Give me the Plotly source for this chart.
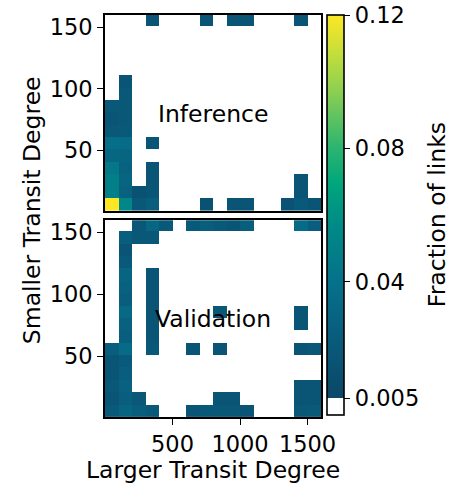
import plotly.graph_objects as go

# bin edges (Larger Transit Degree on x, Smaller Transit Degree on y)
x_edges = [0, 100, 200, 300, 400, 500, 600, 700, 800, 900, 1000, 1100, 1200, 1300, 1400, 1500, 1600]
y_edges = [1, 11, 21, 31, 41, 51, 61, 71, 81, 91, 101, 111, 121, 131, 141, 151, 161]

# fraction of links, rows from bottom (y bin 1-11) to top, 16 columns each
inference = [
    [0.12, 0.055, 0.02, 0.025, 0, 0, 0, 0.015, 0, 0.018, 0.018, 0, 0, 0.016, 0.022, 0.018],
    [0.05, 0.028, 0.015, 0.018, 0, 0, 0, 0, 0, 0, 0, 0, 0, 0, 0.018, 0],
    [0.05, 0.03, 0, 0.018, 0, 0, 0, 0, 0, 0, 0, 0, 0, 0, 0.018, 0],
    [0.044, 0.028, 0, 0.018, 0, 0, 0, 0, 0, 0, 0, 0, 0, 0, 0, 0],
    [0.032, 0.03, 0, 0, 0, 0, 0, 0, 0, 0, 0, 0, 0, 0, 0, 0],
    [0.038, 0.036, 0, 0.018, 0, 0, 0, 0, 0, 0, 0, 0, 0, 0, 0, 0],
    [0.02, 0.022, 0, 0, 0, 0, 0, 0, 0, 0, 0, 0, 0, 0, 0, 0],
    [0.018, 0.02, 0, 0, 0, 0, 0, 0, 0, 0, 0, 0, 0, 0, 0, 0],
    [0.02, 0.02, 0, 0, 0, 0, 0, 0, 0, 0, 0, 0, 0, 0, 0, 0],
    [0, 0.02, 0, 0, 0, 0, 0, 0, 0, 0, 0, 0, 0, 0, 0, 0],
    [0, 0.018, 0, 0, 0, 0, 0, 0, 0, 0, 0, 0, 0, 0, 0, 0],
    [0, 0, 0, 0, 0, 0, 0, 0, 0, 0, 0, 0, 0, 0, 0, 0],
    [0, 0, 0, 0, 0, 0, 0, 0, 0, 0, 0, 0, 0, 0, 0, 0],
    [0, 0, 0, 0, 0, 0, 0, 0, 0, 0, 0, 0, 0, 0, 0, 0],
    [0, 0, 0, 0, 0, 0, 0, 0, 0, 0, 0, 0, 0, 0, 0, 0],
    [0, 0, 0, 0.018, 0, 0, 0, 0.018, 0, 0.018, 0.018, 0, 0, 0, 0.018, 0],
]

validation = [
    [0.022, 0.03, 0.025, 0.022, 0, 0, 0.018, 0.02, 0.02, 0.02, 0.018, 0, 0, 0, 0.02, 0.022],
    [0.018, 0.025, 0.02, 0, 0, 0, 0, 0, 0.018, 0.018, 0, 0, 0, 0, 0.018, 0.018],
    [0.02, 0.028, 0, 0, 0, 0, 0, 0, 0, 0, 0, 0, 0, 0, 0.018, 0.018],
    [0.018, 0.025, 0, 0, 0, 0, 0, 0, 0, 0, 0, 0, 0, 0, 0, 0],
    [0.018, 0.022, 0, 0, 0, 0, 0, 0, 0, 0, 0, 0, 0, 0, 0, 0],
    [0.025, 0.035, 0, 0.02, 0, 0, 0.018, 0, 0.018, 0, 0, 0, 0, 0, 0.018, 0.02],
    [0, 0.025, 0, 0.018, 0, 0, 0, 0, 0, 0, 0, 0, 0, 0, 0, 0],
    [0, 0.028, 0, 0.018, 0, 0, 0, 0, 0, 0, 0, 0, 0, 0, 0.018, 0],
    [0, 0.033, 0, 0.018, 0, 0, 0, 0, 0.02, 0, 0, 0, 0, 0, 0.018, 0],
    [0, 0.025, 0, 0.018, 0, 0, 0, 0, 0, 0, 0, 0, 0, 0, 0, 0],
    [0, 0.028, 0, 0.018, 0, 0, 0, 0, 0, 0, 0, 0, 0, 0, 0, 0],
    [0, 0.03, 0, 0.018, 0, 0, 0, 0, 0, 0, 0, 0, 0, 0, 0, 0],
    [0, 0.022, 0, 0, 0, 0, 0, 0, 0, 0, 0, 0, 0, 0, 0, 0],
    [0, 0.018, 0, 0, 0, 0, 0, 0, 0, 0, 0, 0, 0, 0, 0, 0],
    [0, 0.025, 0.02, 0.02, 0, 0, 0, 0, 0, 0, 0, 0, 0, 0, 0, 0],
    [0, 0, 0.02, 0.032, 0.022, 0, 0.022, 0.025, 0.022, 0.018, 0.025, 0, 0, 0, 0.035, 0.025],
]

x_ticks = [500, 1000, 1500]
y_ticks = [50, 100, 150]
cbar_ticks = [0.005, 0.04, 0.08, 0.12]
cbar_text = ["0.005", "0.04", "0.08", "0.12"]
panel_labels = ["Inference", "Validation"]

ZMIN, ZMAX, ZUNDER = 0.0, 0.12, 0.005


def clean(grid):
    return [[v if v > 0 else None for v in row] for row in grid]


cut = (ZUNDER - ZMIN) / (ZMAX - ZMIN)
stops = [(0.0, "#0b4767"), (0.12, "#0a5677"), (0.30, "#05718a"), (0.45, "#008a87"),
         (0.56, "#00a67c"), (0.66, "#2fb56f"), (0.80, "#8ccf52"), (0.90, "#c4de3a"), (1.0, "#fde725")]
colorscale = [[0.0, "white"], [cut, "white"]]
for t, c in stops:
    colorscale.append([cut + t * (1 - cut), c])

FONT = "DejaVu Sans"
TICK_SIZE = 22.5
LABEL_SIZE = 23.5
fig = go.Figure()
fig.add_trace(go.Heatmap(x=x_edges, y=y_edges, z=clean(inference), coloraxis="coloraxis",
                         xaxis="x2", yaxis="y2", hoverongaps=False))
fig.add_trace(go.Heatmap(x=x_edges, y=y_edges, z=clean(validation), coloraxis="coloraxis",
                         xaxis="x", yaxis="y", hoverongaps=False))

axis_common = dict(showline=True, mirror=True, linecolor="black", linewidth=1.6,
                   showgrid=False, zeroline=False, ticks="outside", ticklen=6, tickwidth=1.4,
                   tickcolor="black", tickfont=dict(family=FONT, size=TICK_SIZE, color="black"))

H = 489
top_px, bot_px = 15, 416.7
plot_h = bot_px - top_px
dom_bottom = [0, (bot_px - 220) / plot_h]
dom_top = [(bot_px - 210.7) / plot_h, 1]

fig.update_layout(
    width=458, height=489,
    margin=dict(l=105, r=137, t=15, b=H - 416.7),
    paper_bgcolor="white", plot_bgcolor="white",
    font=dict(family=FONT, size=TICK_SIZE, color="black"),
    xaxis=dict(range=[0, 1600], tickvals=x_ticks, anchor="y", **axis_common),
    yaxis=dict(range=[1, 160], tickvals=y_ticks, domain=dom_bottom, anchor="x", **axis_common),
    xaxis2=dict(range=[0, 1600], tickvals=x_ticks, anchor="y2", matches="x",
                showticklabels=False, **{k: v for k, v in axis_common.items() if k != "ticks"}, ticks=""),
    yaxis2=dict(range=[1, 160], tickvals=y_ticks, domain=dom_top, anchor="x2", **axis_common),
    coloraxis=dict(
        cmin=ZMIN, cmax=ZMAX, colorscale=colorscale,
        colorbar=dict(
            x=(326.7 - 105) / 216, xanchor="left", xpad=0, ypad=0,
            y=(bot_px - 215) / plot_h, yanchor="middle", len=400 / plot_h, lenmode="fraction",
            thickness=17, outlinewidth=1.6, outlinecolor="black",
            tickvals=cbar_ticks, ticktext=cbar_text, ticks="outside", ticklen=6, tickwidth=1.4,
            tickcolor="black", tickfont=dict(family=FONT, size=TICK_SIZE, color="black"),
        ),
    ),
    annotations=[
        dict(text=panel_labels[0], x=800, y=80, xref="x2", yref="y2", showarrow=False,
             font=dict(family=FONT, size=LABEL_SIZE, color="black")),
        dict(text=panel_labels[1], x=800, y=80, xref="x", yref="y", showarrow=False,
             font=dict(family=FONT, size=LABEL_SIZE, color="black")),
        dict(text="Larger Transit Degree", x=0.5, y=-(470 - bot_px) / plot_h, xref="paper", yref="paper",
             showarrow=False, xanchor="center", yanchor="middle",
             font=dict(family=FONT, size=LABEL_SIZE, color="black")),
        dict(text="Smaller Transit Degree", x=(32 - 105) / 216, y=(bot_px - 210) / plot_h,
             xref="paper", yref="paper", showarrow=False, textangle=-90,
             xanchor="center", yanchor="middle", font=dict(family=FONT, size=LABEL_SIZE, color="black")),
        dict(text="Fraction of links", x=(437 - 105) / 216, y=(bot_px - 215) / plot_h,
             xref="paper", yref="paper", showarrow=False, textangle=-90,
             xanchor="center", yanchor="middle", font=dict(family=FONT, size=LABEL_SIZE, color="black")),
    ],
)

fig.write_html("out.html")
